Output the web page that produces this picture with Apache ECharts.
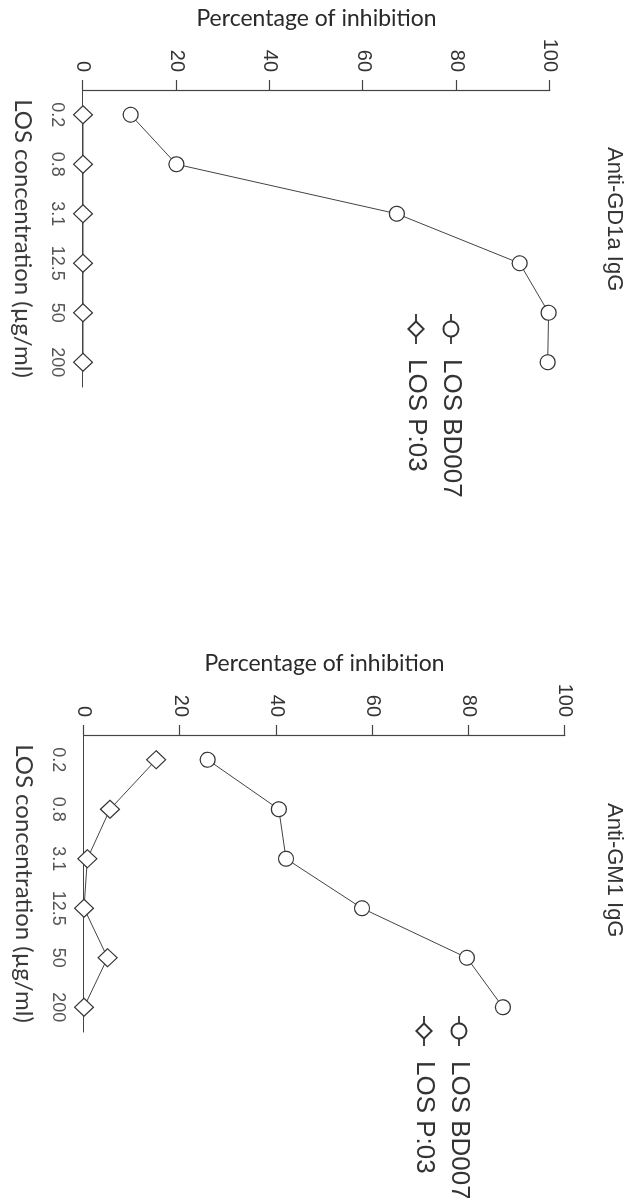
<!DOCTYPE html>
<html>
<head>
<meta charset="utf-8">
<script src="https://cdn.jsdelivr.net/npm/echarts@6/dist/echarts.min.js"></script>
<style>
  html, body { margin: 0; padding: 0; background: #fff; overflow: hidden; }
  /* The figure is laid out landscape and turned a quarter turn clockwise onto the portrait page */
  #fig {
    position: absolute; left: 0; top: 0;
    width: 1198px; height: 628px;
    transform-origin: 0 0;
    transform: translateX(628px) rotate(90deg);
  }
</style>
</head>
<body>
<div id="fig"></div>
<script>
// LOS concentrations (µg/ml) on the category axis
const concentrations = ['0.2', '0.8', '3.1', '12.5', '50', '200'];

// Percentage of inhibition, anti-GD1a IgG panel
const gd1aBD007 = [10.2, 20.0, 67.2, 93.5, 99.7, 99.5];
const gd1aP03   = [0, 0, 0, 0, 0, 0];

// Percentage of inhibition, anti-GM1 IgG panel
const gm1BD007 = [25.7, 40.5, 42.0, 57.8, 79.6, 87.1];
const gm1P03   = [15.0, 5.4, 0.7, 0.0, 4.9, 0.0];

const panelTitles = ['Anti-GD1a IgG', 'Anti-GM1 IgG'];
const seriesNames = ['LOS BD007', 'LOS P:03'];
const yAxisName = 'Percentage of inhibition';
const xAxisName = 'LOS concentration (\u00b5g/ml)';

const SANS = 'Liberation Sans, Arial, Helvetica, sans-serif';
const HUMANIST = 'Lato, "Open Sans", sans-serif';
const INK = '#333';

const chart = echarts.init(document.getElementById('fig'), null, { renderer: 'canvas' });

const grids = [
  { left: 90, top: 78, width: 297, height: 467 },
  { left: 735, top: 63, width: 297, height: 481 }
];

function xAxisFor(i) {
  return {
    type: 'category', gridIndex: i, data: concentrations, boundaryGap: true,
    axisLine: { lineStyle: { color: '#444', width: 1.2 } },
    axisTick: { alignWithLabel: true, length: 7, lineStyle: { color: '#444', width: 1.2 } },
    axisLabel: { color: '#555', fontFamily: SANS, fontSize: 18, margin: 17 },
    name: xAxisName, nameLocation: 'middle', nameGap: 48,
    nameTextStyle: { color: '#3a3a3a', fontFamily: HUMANIST, fontSize: 24 },
    splitLine: { show: false }
  };
}
function yAxisFor(i) {
  return {
    type: 'value', gridIndex: i, min: 0, max: 100, interval: 20,
    axisLine: { show: true, lineStyle: { color: '#444', width: 1.2 } },
    axisTick: { show: true, length: 10, lineStyle: { color: '#444', width: 1.2 } },
    axisLabel: { color: INK, fontFamily: SANS, fontSize: 20, margin: 18 },
    name: yAxisName, nameLocation: 'middle', nameGap: 60, nameRotate: 90,
    nameTextStyle: { color: '#2a2a2a', fontFamily: HUMANIST, fontSize: 23 },
    splitLine: { show: false }
  };
}

const circleStyle = { color: '#fff', borderColor: '#333', borderWidth: 1.2 };
function lineSeries(name, data, i, symbol, size) {
  return {
    type: 'line', name: name, data: data, xAxisIndex: i, yAxisIndex: i,
    symbol: symbol, symbolSize: size, showAllSymbol: true,
    itemStyle: circleStyle,
    lineStyle: { color: '#444', width: 1 },
    emphasis: { disabled: true }, animation: false
  };
}

const legendCommon = {
  orient: 'vertical', itemWidth: 30, itemHeight: 19, itemGap: 9,
  textStyle: { color: INK, fontFamily: SANS, fontSize: 26, padding: [0, 0, 0, 10] },
  selectedMode: false,
  data: seriesNames
};

chart.setOption({
  animation: false,
  backgroundColor: '#fff',
  title: [
    { text: panelTitles[0], left: 147, top: 3, padding: 0,
      textStyle: { color: INK, fontFamily: SANS, fontSize: 22, fontWeight: 'normal' } },
    { text: panelTitles[1], left: 803, top: 3, padding: 0,
      textStyle: { color: INK, fontFamily: SANS, fontSize: 22, fontWeight: 'normal' } }
  ],
  legend: [
    Object.assign({ left: 313, top: 164, padding: 0 }, legendCommon),
    Object.assign({ left: 1015, top: 156, padding: 0 }, legendCommon)
  ],
  grid: grids,
  xAxis: [xAxisFor(0), xAxisFor(1)],
  yAxis: [yAxisFor(0), yAxisFor(1)],
  series: [
    lineSeries(seriesNames[0], gd1aBD007, 0, 'circle', 15),
    lineSeries(seriesNames[1], gd1aP03, 0, 'diamond', [18, 19]),
    lineSeries(seriesNames[0], gm1BD007, 1, 'circle', 15),
    lineSeries(seriesNames[1], gm1P03, 1, 'diamond', [18, 19])
  ]
});
</script>
</body>
</html>
